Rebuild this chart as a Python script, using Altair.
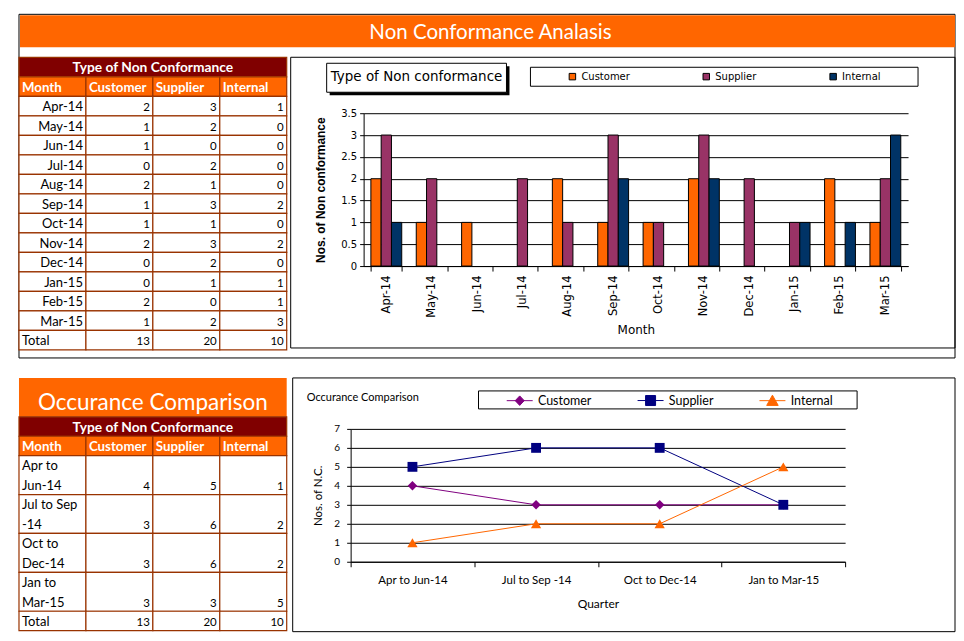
import altair as alt
import pandas as pd

# ---------------- data ----------------
months = ["Apr-14", "May-14", "Jun-14", "Jul-14", "Aug-14", "Sep-14",
          "Oct-14", "Nov-14", "Dec-14", "Jan-15", "Feb-15", "Mar-15"]
customer = [2, 1, 1, 0, 2, 1, 1, 2, 0, 0, 2, 1]
supplier = [3, 2, 0, 2, 1, 3, 1, 3, 2, 1, 0, 2]
internal = [1, 0, 0, 0, 0, 2, 0, 2, 0, 1, 1, 3]
series = ["Customer", "Supplier", "Internal"]

quarters = ["Apr to Jun-14", "Jul to Sep -14", "Oct to Dec-14", "Jan to Mar-15"]
quarter_lines = [["Apr to", "Jun-14"], ["Jul to Sep", "-14"], ["Oct to", "Dec-14"], ["Jan to", "Mar-15"]]
q_customer = [4, 3, 3, 3]
q_supplier = [5, 6, 6, 3]
q_internal = [1, 2, 2, 5]

bar_ticks = [0, 0.5, 1, 1.5, 2, 2.5, 3, 3.5]
line_ticks = [0, 1, 2, 3, 4, 5, 6, 7]

headers = ["Month", "Customer", "Supplier", "Internal"]
group_header = "Type of Non Conformance"
main_title = "Non Conformance Analasis"
table2_title = "Occurance Comparison"
chart1_title = "Type of Non conformance"
chart2_title = "Occurance Comparison"

# ---------------- styles ----------------
ORANGE = "#FF6600"
MAROON = "#800000"
BORDER = "#993300"
bar_colors = ["#FF6600", "#993366", "#003366"]
line_colors = ["#800080", "#000080", "#FF6600"]
point_shapes = ["diamond", "square", "triangle-up"]
legend_paths = ["M-2.6,0H2.6M0,-0.95L0.9,0L0,0.95L-0.9,0Z",
                "M-2.6,0H2.6M-1,-1H1V1H-1Z",
                "M-2.6,0H2.6M0,-1.1L1.15,0.95H-1.15Z"]

monthly = pd.DataFrame([{"month": m, "series": s, "value": v}
                        for s, vals in zip(series, [customer, supplier, internal])
                        for m, v in zip(months, vals)])
quarterly = pd.DataFrame([{"quarter": q, "series": s, "value": v}
                          for s, vals in zip(series, [q_customer, q_supplier, q_internal])
                          for q, v in zip(quarters, vals)])
one = pd.DataFrame({"k": [0]})

TW = 268
xs_t = alt.Scale(domain=[0, 4], range=[0, TW], nice=False, zero=False)


def cells(df, ys):
    return alt.Chart(df).mark_rect(stroke=BORDER, strokeWidth=1.2).encode(
        x=alt.X("c0:Q", scale=xs_t, axis=None), x2="c1:Q",
        y=alt.Y("r0:Q", scale=ys, axis=None), y2="r1:Q",
        fill=alt.Fill("kind:N", scale=alt.Scale(domain=["head1", "head2", "body"],
                                                range=[MAROON, ORANGE, "white"]), legend=None))


def texts(df, ys, align, color="black", size=13, weight="normal", dx=0, dy=1):
    return alt.Chart(pd.DataFrame(df)).mark_text(
        align=align, baseline="middle", color=color, fontSize=size, fontWeight=weight,
        dx=dx, dy=dy, font="Lato").encode(
        x=alt.X("tx:Q", scale=xs_t, axis=None),
        y=alt.Y("ty:Q", scale=ys, axis=None), text="label:N")


# ---------------- table 1 (with page title + frame) ----------------
T1H = 293
ys_t1 = alt.Scale(domain=[0, 15], range=[0, T1H], nice=False, zero=False)
r1 = ([{"c0": 0, "c1": 4, "r0": 0, "r1": 1, "kind": "head1"}]
      + [{"c0": j, "c1": j + 1, "r0": 1, "r1": 2, "kind": "head2"} for j in range(4)]
      + [{"c0": j, "c1": j + 1, "r0": 2 + i, "r1": 3 + i, "kind": "body"}
         for i in range(13) for j in range(4)])
vals_all = [customer, supplier, internal]
nums1 = ([{"tx": 2 + j, "ty": 2.5 + i, "label": str(v[i])} for j, v in enumerate(vals_all) for i in range(12)]
         + [{"tx": 2 + j, "ty": 14.5, "label": str(sum(v))} for j, v in enumerate(vals_all)])

frame_all = alt.Chart(one).mark_rect(filled=False, stroke="black", strokeWidth=1).encode(
    x=alt.value(0), x2=alt.value(937), y=alt.value(-43), y2=alt.value(301))
title_bar = alt.Chart(one).mark_rect(fill=ORANGE).encode(
    x=alt.value(1), x2=alt.value(937), y=alt.value(-42), y2=alt.value(-10))
title_txt = alt.Chart(pd.DataFrame({"label": [main_title]})).mark_text(
    font="Lato", fontSize=20.5, color="white", align="center", baseline="middle").encode(
    x=alt.value(472), y=alt.value(-24), text="label:N")

table1 = alt.layer(
    frame_all, title_bar, title_txt,
    cells(pd.DataFrame(r1), ys_t1),
    texts([{"tx": 2, "ty": 0.5, "label": group_header}], ys_t1, "center", "white", 13.8, "bold"),
    texts([{"tx": j, "ty": 1.5, "label": h} for j, h in enumerate(headers)], ys_t1, "left", "white", 13.3, "bold", dx=3),
    texts([{"tx": 1, "ty": 2.5 + i, "label": m} for i, m in enumerate(months)], ys_t1, "right", size=13, dx=-3),
    texts([{"tx": 0, "ty": 14.5, "label": "Total"}], ys_t1, "left", size=13, dx=3),
    texts(nums1, ys_t1, "right", size=11.5, dx=-3, dy=2),
).properties(width=TW, height=T1H)

# ---------------- chart 1 (grouped bars) ----------------
CW = 665
C1H = 291
xb = alt.Scale(domain=months, range=[73, 618], paddingInner=0.32, paddingOuter=0.16)
yb = alt.Scale(domain=[0, 3.5], range=[209, 56], nice=False, zero=True)

c1_frame = alt.Chart(one).mark_rect(filled=False, stroke="black", strokeWidth=1).encode(
    x=alt.value(0), x2=alt.value(CW), y=alt.value(0), y2=alt.value(C1H))
c1_shadow = alt.Chart(one).mark_rect(fill="black").encode(
    x=alt.value(39), x2=alt.value(219), y=alt.value(9), y2=alt.value(38))
c1_tbox = alt.Chart(one).mark_rect(fill="white", stroke="black", strokeWidth=1).encode(
    x=alt.value(36), x2=alt.value(216), y=alt.value(6), y2=alt.value(35))
c1_ttxt = alt.Chart(pd.DataFrame({"label": [chart1_title]})).mark_text(
    font="DejaVu Sans", fontSize=13.5, color="black", align="left", baseline="middle").encode(
    x=alt.value(40), y=alt.value(20), text="label:N")
c1_lbox = alt.Chart(one).mark_rect(fill="white", stroke="black", strokeWidth=1).encode(
    x=alt.value(240), x2=alt.value(628), y=alt.value(10), y2=alt.value(29))

bars = alt.Chart(monthly).transform_filter("datum.value > 0").mark_bar(stroke="black", strokeWidth=1).encode(
    x=alt.X("month:N", sort=months, scale=xb, axis=alt.Axis(
        orient="bottom", offset=-82, labelAngle=-90, labelAlign="right", labelBaseline="middle",
        labelPadding=4, tickBand="extent", tickSize=5, tickColor="black", domainColor="black",
        labelFont="DejaVu Sans", labelFontSize=11.5, labelColor="black", grid=False,
        title="Month", titleFont="DejaVu Sans", titleFontSize=12, titleFontWeight="normal",
        titleColor="black", titleY=64, titleBaseline="middle")),
    xOffset=alt.XOffset("series:N", sort=series, scale=alt.Scale(domain=series)),
    y=alt.Y("value:Q", scale=yb, axis=alt.Axis(
        orient="left", offset=-73, values=bar_ticks, format="~g", grid=True, gridColor="black",
        gridWidth=1, gridOpacity=1, domainColor="black", tickColor="black", tickSize=4,
        labelPadding=3, labelFont="DejaVu Sans", labelFontSize=10, labelColor="black",
        title="Nos. of Non conformance", titleFont="Liberation Sans", titleFontSize=12,
        titleFontWeight="bold", titleColor="black", titleX=-43, titleBaseline="middle")),
    color=alt.Color("series:N", sort=series, scale=alt.Scale(domain=series, range=bar_colors),
                    legend=alt.Legend(orient="none", legendX=277, legendY=14, direction="horizontal",
                                      title=None, symbolType="square", symbolSize=42,
                                      symbolStrokeColor="black", symbolStrokeWidth=1,
                                      labelFont="DejaVu Sans", labelFontSize=10, labelColor="black",
                                      labelOffset=4, columnPadding=70, padding=0)),
)

chart1 = alt.layer(c1_frame, c1_shadow, c1_tbox, c1_ttxt, c1_lbox, bars).properties(width=CW, height=C1H)

# ---------------- table 2 ----------------
T2H = 253
ys_t2 = alt.Scale(domain=[0, 13], range=[0, T2H], nice=False, zero=False)
r2 = ([{"c0": 0, "c1": 4, "r0": 2, "r1": 3, "kind": "head1"}]
      + [{"c0": j, "c1": j + 1, "r0": 3, "r1": 4, "kind": "head2"} for j in range(4)]
      + [{"c0": j, "c1": j + 1, "r0": 4 + 2 * i, "r1": 6 + 2 * i, "kind": "body"}
         for i in range(4) for j in range(4)]
      + [{"c0": j, "c1": j + 1, "r0": 12, "r1": 13, "kind": "body"} for j in range(4)])
qvals = [q_customer, q_supplier, q_internal]
nums2 = ([{"tx": 2 + j, "ty": 5.5 + 2 * i, "label": str(v[i])} for j, v in enumerate(qvals) for i in range(4)]
         + [{"tx": 2 + j, "ty": 12.5, "label": str(sum(v))} for j, v in enumerate(qvals)])
qlab = [{"tx": 0, "ty": 4.5 + 2 * i + k, "label": ln[k]} for i, ln in enumerate(quarter_lines) for k in range(2)]

t2_title_rect = alt.Chart(pd.DataFrame([{"c0": 0, "c1": 4, "r0": 0, "r1": 2}])).mark_rect(fill=ORANGE).encode(
    x=alt.X("c0:Q", scale=xs_t, axis=None), x2="c1:Q",
    y=alt.Y("r0:Q", scale=ys_t2, axis=None), y2="r1:Q")

table2 = alt.layer(
    t2_title_rect,
    texts([{"tx": 2, "ty": 1.0, "label": table2_title}], ys_t2, "center", "white", 22.5, dy=6),
    cells(pd.DataFrame(r2), ys_t2),
    texts([{"tx": 2, "ty": 2.5, "label": group_header}], ys_t2, "center", "white", 13.8, "bold"),
    texts([{"tx": j, "ty": 3.5, "label": h} for j, h in enumerate(headers)], ys_t2, "left", "white", 13.3, "bold", dx=3),
    texts(qlab, ys_t2, "left", size=13, dx=3),
    texts([{"tx": 0, "ty": 12.5, "label": "Total"}], ys_t2, "left", size=13, dx=3),
    texts(nums2, ys_t2, "right", size=11.5, dx=-3, dy=2),
).properties(width=TW, height=T2H)

# ---------------- chart 2 (lines) ----------------
C2H = 254
xq = alt.Scale(type="band", domain=quarters, range=[60, 555], paddingInner=0, paddingOuter=0)
yq = alt.Scale(domain=[0, 7], range=[184, 51], nice=False, zero=True)
col_q = alt.Scale(domain=series, range=line_colors)

ax_x2 = alt.Axis(
    orient="bottom", offset=-70, labelAngle=0, tickBand="extent", tickSize=5, labelPadding=8,
    labelFont="Lato", labelFontSize=11.5, labelColor="black", domainColor="black",
    tickColor="black", grid=False, title="Quarter", titleFont="Lato", titleFontSize=12,
    titleFontWeight="normal", titleColor="black", titleY=42, titleBaseline="middle")
ax_y2 = alt.Axis(
    orient="left", offset=-60, values=line_ticks, grid=True, gridColor="black", gridOpacity=1,
    gridWidth=1, tickSize=4, labelPadding=7, labelFont="Lato", labelFontSize=10,
    labelColor="black", domainColor="black", tickColor="black", title="Nos. of N.C.",
    titleFont="Lato", titleFontSize=11.5, titleFontWeight="normal", titleColor="black",
    titleX=-32, titleBaseline="middle")

c2_frame = alt.Chart(one).mark_rect(filled=False, stroke="black", strokeWidth=1).encode(
    x=alt.value(2), x2=alt.value(CW), y=alt.value(0), y2=alt.value(C2H))
c2_lbox = alt.Chart(one).mark_rect(fill="white", stroke="black", strokeWidth=1).encode(
    x=alt.value(188), x2=alt.value(567), y=alt.value(13), y2=alt.value(31))
c2_ttxt = alt.Chart(pd.DataFrame({"label": [chart2_title]})).mark_text(
    font="Lato", fontSize=11, color="black", align="left", baseline="middle").encode(
    x=alt.value(16), y=alt.value(20), text="label:N")

lines = alt.Chart(quarterly).mark_line(strokeWidth=1).encode(
    x=alt.X("quarter:N", sort=quarters, scale=xq, bandPosition=0.5, axis=ax_x2),
    y=alt.Y("value:Q", scale=yq, axis=ax_y2),
    color=alt.Color("series:N", scale=col_q, legend=None),
)

points = alt.Chart(quarterly).mark_point(filled=True, opacity=1).encode(
    x=alt.X("quarter:N", sort=quarters, scale=xq, bandPosition=0.5, axis=ax_x2),
    y=alt.Y("value:Q", scale=yq, axis=ax_y2),
    color=alt.Color("series:N", scale=col_q, legend=None),
    shape=alt.Shape("series:N", scale=alt.Scale(domain=series, range=point_shapes), legend=None),
    size=alt.Size("series:N", scale=alt.Scale(domain=series, range=[90, 105, 175]), legend=None),
)

leg2 = alt.Legend(orient="none", legendX=223, legendY=16, direction="horizontal", title=None,
                  symbolSize=100, symbolStrokeWidth=1, labelFont="Lato", labelFontSize=12.5,
                  labelColor="black", labelOffset=12, columnPadding=43, padding=0)
legend_layer = alt.Chart(quarterly).transform_filter("false").mark_point(filled=True, opacity=1).encode(
    fill=alt.Fill("series:N", scale=alt.Scale(domain=series, range=line_colors), legend=leg2),
    stroke=alt.Stroke("series:N", scale=alt.Scale(domain=series, range=line_colors), legend=leg2),
    shape=alt.Shape("series:N", scale=alt.Scale(domain=series, range=legend_paths), legend=leg2),
)

chart2 = alt.layer(c2_frame, c2_lbox, c2_ttxt, lines, points, legend_layer).resolve_scale(
    shape="independent", fill="independent", stroke="independent", size="independent"
).properties(width=CW, height=C2H)

# ---------------- assemble ----------------
chart = alt.concat(
    table1, chart1, table2, chart2, columns=2,
    spacing={"row": 28, "column": 4}, bounds="flush",
    padding={"left": 9, "top": 5, "right": 0, "bottom": 0},
    background="white",
).resolve_scale(
    color="independent", fill="independent", stroke="independent", shape="independent", size="independent"
).resolve_legend(
    color="independent", fill="independent", stroke="independent", shape="independent", size="independent"
).configure_view(stroke="transparent")

chart.save("out.html", embed_options={"renderer": "svg", "actions": False})
